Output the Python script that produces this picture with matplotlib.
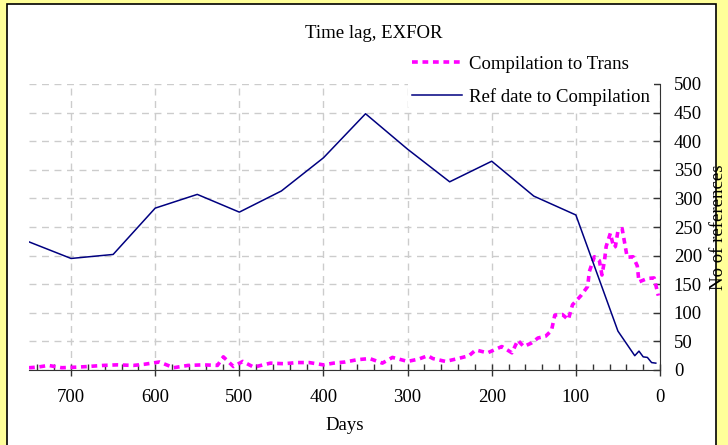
import matplotlib
matplotlib.use("Agg")
import matplotlib.pyplot as plt
from matplotlib.patches import Rectangle
from matplotlib.ticker import MultipleLocator

plt.rcParams['font.family'] = ['Liberation Serif', 'DejaVu Serif']

# Ref date to Compilation
ref_days = [750, 700, 650, 600, 550, 500, 450, 400, 350, 300, 250, 200, 150, 100,
            50, 30, 25, 20, 15, 10, 5]
ref_vals = [224, 195, 202, 283, 307, 276, 313, 371, 448, 386, 329, 365, 304, 271,
            68, 25, 33, 23, 22, 13, 12]

# Compilation to Trans
ct_days = [750, 740, 727, 711, 693, 681, 662, 645, 626, 613, 595, 578, 561, 543,
           526, 519, 507, 496, 483, 463, 447, 431, 417, 400, 388, 374, 360, 345,
           330, 318, 300, 287, 276, 270, 255, 240, 227, 219, 205, 188, 176, 169,
           162, 153, 145, 136, 129, 125, 116, 109, 104, 94, 86, 84, 78, 72, 69,
           66, 64, 59, 55, 53, 50, 45, 42, 39, 32, 27, 25, 15, 7, 2]
ct_vals = [4, 5, 8, 4, 5, 6, 8, 9, 8, 10, 14, 4, 8, 9,
           8, 23, 6, 15, 5, 12, 11, 13, 13, 9, 12, 14, 18, 20,
           12, 22, 15, 19, 25, 20, 15, 20, 25, 35, 30, 41, 30, 52,
           41, 47, 56, 59, 69, 96, 97, 88, 114, 130, 146, 172, 198, 191, 166,
           191, 216, 239, 214, 216, 243, 247, 222, 197, 198, 182, 154, 160, 161, 130]

FS = 13.5

fig = plt.figure(figsize=(7.28, 4.45), dpi=100)
fig.patch.set_facecolor('#FFFF99')

bg = fig.add_axes([0, 0, 1, 1], zorder=0)
bg.set_axis_off()
bg.set_xlim(0, 1)
bg.set_ylim(0, 1)
bg.add_patch(Rectangle((7 / 728, -0.02), (716 - 7) / 728, 1 - 4 / 445 + 0.02,
                       facecolor='white', edgecolor='black', linewidth=1.2))

ax = fig.add_axes([29 / 728, 1 - 370 / 445, (660 - 29) / 728, (370 - 84) / 445], zorder=1)
ax.set_facecolor('white')

ax.plot(ct_days, ct_vals, color='#FF00FF', linewidth=2.6, linestyle=(0, (1.6, 1.3)),
        label='Compilation to Trans', zorder=3)
ax.plot(ref_days, ref_vals, color='#000080', linewidth=1.1,
        label='Ref date to Compilation', zorder=4)

ax.set_xlim(750, 0)
ax.set_ylim(0, 500)
ax.xaxis.set_major_locator(MultipleLocator(100))
ax.xaxis.set_minor_locator(MultipleLocator(20))
ax.yaxis.set_major_locator(MultipleLocator(50))

ax.yaxis.tick_right()
ax.yaxis.set_label_position('right')
for s in ['top', 'left']:
    ax.spines[s].set_visible(False)
ax.spines['bottom'].set_color('#333333')
ax.spines['right'].set_color('#333333')

ax.tick_params(axis='x', which='major', direction='inout', length=9, width=1,
               color='#333333', labelsize=FS, pad=9)
ax.tick_params(axis='x', which='minor', direction='in', length=4, width=1, color='#333333')
ax.tick_params(axis='y', which='major', direction='in', length=5, width=1,
               color='#333333', labelsize=FS, pad=10)

ax.grid(True, axis='both', which='major', color='#CCCCCC', linestyle=(0, (5, 4)),
        linewidth=1, zorder=1)
ax.set_axisbelow(True)

ax.set_xlabel('Days', fontsize=FS, labelpad=8)
ax.set_ylabel('No of references', fontsize=FS, labelpad=6)

fig.text(374 / 728, 1 - 33 / 445, 'Time lag, EXFOR', ha='center', va='center',
         fontsize=FS, zorder=2)

leg = ax.legend(loc='upper left', bbox_to_anchor=(408 / 728, 1 - 52 / 445),
                bbox_transform=fig.transFigure, fontsize=FS, frameon=True,
                facecolor='white', edgecolor='none', framealpha=1,
                handlelength=2.7, handletextpad=0.35, labelspacing=0.8,
                borderpad=0.2, borderaxespad=0)
leg.get_frame().set_linewidth(0)
leg.set_zorder(5)

fig.savefig('out.png', dpi=100, facecolor=fig.get_facecolor())
